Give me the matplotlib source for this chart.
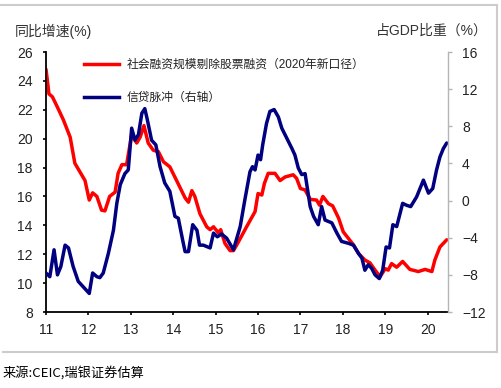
import matplotlib
matplotlib.use("Agg")
import matplotlib.pyplot as plt
from matplotlib.lines import Line2D

plt.rcParams["font.family"] = ["Liberation Sans", "Noto Sans CJK SC", "DejaVu Sans"]

# 社会融资规模剔除股票融资 (同比, %), left axis
red_x = [2011.0, 2011.07, 2011.15, 2011.25, 2011.41, 2011.57, 2011.68, 2011.84, 2011.92,
         2012.02, 2012.1, 2012.2, 2012.31, 2012.39, 2012.5, 2012.63, 2012.7, 2012.79, 2012.9,
         2013.02, 2013.14, 2013.22, 2013.31, 2013.41, 2013.53, 2013.65, 2013.77, 2013.92,
         2014.08, 2014.28, 2014.36, 2014.44, 2014.51, 2014.63, 2014.79, 2014.87, 2014.95,
         2015.06, 2015.12, 2015.22, 2015.34, 2015.42, 2015.5, 2015.73, 2015.93,
         2016.0, 2016.09, 2016.15, 2016.24, 2016.4, 2016.52, 2016.64, 2016.83, 2016.91,
         2017.0, 2017.11, 2017.23, 2017.38, 2017.45, 2017.53, 2017.66, 2017.76, 2017.9,
         2018.01, 2018.13, 2018.25, 2018.37, 2018.52, 2018.64, 2018.76, 2018.88,
         2019.0, 2019.07, 2019.15, 2019.27, 2019.41, 2019.58, 2019.78, 2019.94,
         2020.1, 2020.17, 2020.29, 2020.45]
red_y = [24.8, 23.1, 22.9, 22.3, 21.3, 20.1, 18.3, 17.5, 17.1,
         15.75, 16.25, 16.0, 15.05, 15.0, 16.0, 16.3, 17.6, 18.2, 18.2,
         20.25, 19.7, 20.1, 20.9, 19.7, 19.2, 19.1, 18.4, 18.05,
         17.1, 15.9, 15.6, 16.4, 16.0, 14.8, 13.9, 13.7, 13.9,
         13.5, 13.7, 12.75, 12.25, 12.25, 12.65, 13.9, 14.95,
         16.2, 16.1, 16.9, 17.6, 17.6, 17.1, 17.35, 17.5, 17.25,
         16.55, 16.45, 15.8, 15.75, 15.4, 16.0, 15.5, 15.35, 14.5,
         13.55, 13.1, 12.65, 12.05, 11.6, 11.4, 10.9, 10.45,
         11.0, 10.9, 11.35, 11.1, 11.5, 10.95, 10.8, 10.95,
         10.8, 11.6, 12.5, 13.0]

# 信贷脉冲 (占GDP比重, %), right axis
blue_x = [2011.0, 2011.09, 2011.19, 2011.27, 2011.35, 2011.45, 2011.53, 2011.64, 2011.76, 2011.88,
          2012.02, 2012.1, 2012.2, 2012.27, 2012.35, 2012.47, 2012.59, 2012.67, 2012.75, 2012.86, 2012.94,
          2013.02, 2013.1, 2013.18, 2013.26, 2013.33, 2013.39, 2013.49, 2013.59, 2013.69, 2013.8, 2013.92,
          2014.04, 2014.12, 2014.22, 2014.28, 2014.36, 2014.46, 2014.56, 2014.62, 2014.71, 2014.87, 2014.95,
          2015.04, 2015.14, 2015.26, 2015.42, 2015.58, 2015.69, 2015.81, 2015.87, 2015.93,
          2016.0, 2016.06, 2016.11, 2016.2, 2016.28, 2016.38, 2016.48, 2016.56, 2016.68, 2016.8, 2016.87, 2016.95,
          2017.03, 2017.11, 2017.23, 2017.31, 2017.42, 2017.5, 2017.58, 2017.74, 2017.86, 2017.97,
          2018.13, 2018.25, 2018.37, 2018.45, 2018.52, 2018.6, 2018.68, 2018.76, 2018.86, 2018.94,
          2019.02, 2019.1, 2019.18, 2019.27, 2019.41, 2019.5, 2019.6, 2019.74, 2019.9,
          2020.02, 2020.12, 2020.21, 2020.29, 2020.37, 2020.45]
blue_y = [-7.8, -8.2, -5.3, -8.0, -7.1, -4.8, -5.1, -7.1, -8.7, -9.3,
          -10.0, -7.8, -8.2, -8.3, -7.8, -5.7, -3.2, -0.3, 1.7, 2.9, 3.3,
          7.8, 6.5, 7.1, 9.4, 9.9, 8.7, 6.5, 6.0, 3.65, 1.9, 1.0,
          -1.7, -1.9, -4.2, -5.5, -5.5, -2.6, -3.2, -4.8, -4.8, -5.1, -3.5,
          -3.9, -3.6, -4.05, -5.3, -2.8, 0.1, 3.1, 3.65, 3.3,
          4.9, 4.4, 6.0, 8.3, 9.6, 9.8, 9.0, 7.8, 6.7, 5.6, 4.9, 3.5,
          2.8, 2.9, -0.65, -1.7, -2.6, -0.65, -2.1, -2.4, -3.5, -4.4,
          -4.6, -4.8, -5.7, -6.2, -7.5, -6.9, -7.3, -8.0, -8.4, -7.5,
          -5.0, -5.1, -2.6, -2.8, -0.3, -0.5, -0.65, 0.4, 2.2,
          0.8, 1.3, 3.3, 4.7, 5.6, 6.2]

year_ticks = [2011, 2012, 2013, 2014, 2015, 2016, 2017, 2018, 2019, 2020]
year_labels = ["11", "12", "13", "14", "15", "16", "17", "18", "19", "20"]
left_ticks = [8, 10, 12, 14, 16, 18, 20, 22, 24, 26]
right_ticks = [-12, -8, -4, 0, 4, 8, 12, 16]

red_label = "社会融资规模剔除股票融资（2020年新口径）"
blue_label = "信贷脉冲（右轴）"

RED = "#ff0000"
NAVY = "#000080"
TXT = "#222222"

fig = plt.figure(figsize=(5.01, 3.88), dpi=100)
ax = fig.add_axes([46 / 501, 1 - 312 / 388, (448 - 46) / 501, 260 / 388])
ax2 = ax.twinx()

ax.plot(red_x, red_y, color=RED, linewidth=2.5, solid_capstyle="round")
ax2.plot(blue_x, blue_y, color=NAVY, linewidth=2.5, solid_capstyle="round")

ax.set_xlim(2011, 2020.48)
ax.set_ylim(8, 26)
ax2.set_ylim(-12, 16)
ax.set_xticks(year_ticks)
ax.set_xticklabels(year_labels)
ax.set_yticks(left_ticks)
ax2.set_yticks(right_ticks)

for a in (ax, ax2):
    a.spines["top"].set_visible(False)
ax2.spines["left"].set_visible(False)
ax2.spines["bottom"].set_visible(False)
ax.spines["right"].set_visible(False)
ax.spines["left"].set_linewidth(1.3)
ax.spines["bottom"].set_linewidth(1.3)
ax2.spines["right"].set_color("#b5b5b5")
ax2.spines["right"].set_linewidth(1.0)

ax.tick_params(axis="y", labelsize=10, labelcolor=TXT, length=2.5, width=1.2, pad=7)
ax.tick_params(axis="x", labelsize=10, labelcolor=TXT, length=2.5, width=1.2, pad=5.5)
ax2.tick_params(axis="y", labelsize=10, labelcolor=TXT, length=3, width=1.0,
                color="#b5b5b5", pad=7)

fig.text(15 / 501, 1 - 31 / 388, "同比增速(%)", fontsize=10, va="center", ha="left",
         color="#333333")
fig.text(488 / 501, 1 - 31 / 388, "占GDP比重（%）", fontsize=10, va="center", ha="right",
         color="#333333")

handles = [Line2D([], [], color=RED, linewidth=2.5),
           Line2D([], [], color=NAVY, linewidth=2.5)]
fig.legend(handles, [red_label, blue_label], loc="upper left",
           bbox_to_anchor=(79 / 501, 1 - 54 / 388), frameon=False, fontsize=8.5,
           labelcolor=TXT, handlelength=3.0, handletextpad=0.6, labelspacing=1.8,
           borderaxespad=0)

# frame lines around the exhibit
fig.add_artist(Line2D([0, 497 / 501], [1 - 5 / 388, 1 - 5 / 388], color="#cccccc", linewidth=1.5))
fig.add_artist(Line2D([497 / 501, 497 / 501], [1 - 5 / 388, 1 - 352 / 388], color="#cccccc", linewidth=1.5))
fig.add_artist(Line2D([3 / 501, 497 / 501], [1 - 352 / 388, 1 - 352 / 388], color="#cccccc", linewidth=1.5))

fig.text(3 / 501, 1 - 373 / 388, "来源:CEIC,瑞银证券估算", fontsize=9.5, va="center", ha="left",
         family=["Noto Sans CJK SC", "DejaVu Sans"])

fig.savefig("out.png", dpi=100)
